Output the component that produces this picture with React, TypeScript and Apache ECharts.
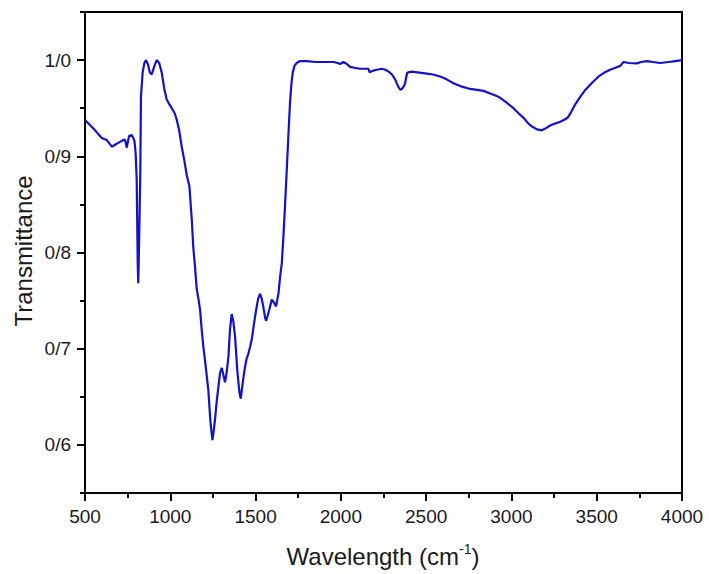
import React, { useEffect, useRef } from "react";
import * as echarts from "echarts";

const wavenumbers = [
  500, 510, 549, 598, 627, 657, 676, 705, 725, 735, 745, 758, 774, 783, 790, 797,
  803, 809, 812, 815, 818, 824, 828, 838, 848, 858, 870, 880, 891, 905, 920, 935,
  950, 965, 979, 995, 1009, 1025, 1038, 1053, 1067, 1082, 1097, 1112, 1126, 1135,
  1145, 1155, 1165, 1175, 1185, 1194, 1210, 1223, 1235, 1247, 1255, 1262, 1272,
  1282, 1292, 1302, 1312, 1321, 1331, 1341, 1350, 1360, 1370, 1380, 1393, 1405,
  1413, 1425, 1438, 1448, 1458, 1468, 1478, 1490, 1503, 1515, 1526, 1536, 1546,
  1556, 1562, 1572, 1581, 1595, 1608, 1620, 1634, 1644, 1654, 1663, 1673, 1683,
  1692, 1702, 1710, 1718, 1728, 1741, 1761, 1800, 1850, 1900, 1957, 1980, 1996,
  2015, 2035, 2054, 2080, 2113, 2140, 2162, 2168, 2190, 2211, 2240, 2260, 2280,
  2300, 2318, 2330, 2338, 2350, 2358, 2370, 2377, 2385, 2390, 2416, 2460, 2504,
  2540, 2582, 2620, 2660, 2700, 2758, 2800, 2836, 2880, 2924, 2970, 3012, 3040,
  3071, 3100, 3120, 3150, 3179, 3200, 3227, 3255, 3286, 3310, 3329, 3350, 3374,
  3400, 3433, 3470, 3511, 3545, 3579, 3610, 3638, 3657, 3690, 3736, 3760, 3794,
  3830, 3872, 3920, 3960, 4000,
];

const transmittance = [
  0.938, 0.936, 0.929, 0.919, 0.917, 0.91, 0.912, 0.915, 0.917, 0.917, 0.909, 0.921,
  0.922, 0.919, 0.916, 0.903, 0.876, 0.79, 0.768, 0.79, 0.82, 0.88, 0.962, 0.987,
  0.997, 1.0, 0.995, 0.987, 0.985, 0.993, 1.0, 0.997, 0.987, 0.97, 0.959, 0.954,
  0.95, 0.945, 0.938, 0.926, 0.91, 0.896, 0.88, 0.869, 0.834, 0.805, 0.785, 0.762,
  0.752, 0.74, 0.718, 0.702, 0.678, 0.657, 0.625, 0.605, 0.615, 0.626, 0.645, 0.66,
  0.675, 0.68, 0.672, 0.665, 0.676, 0.692, 0.72, 0.736, 0.728, 0.712, 0.677, 0.655,
  0.648, 0.665, 0.681, 0.69, 0.695, 0.702, 0.71, 0.725, 0.74, 0.752, 0.757, 0.752,
  0.743, 0.732, 0.729, 0.735, 0.741, 0.751, 0.748, 0.744, 0.757, 0.775, 0.789,
  0.816, 0.85, 0.886, 0.92, 0.956, 0.975, 0.987, 0.994, 0.997, 0.999, 0.999, 0.998,
  0.998, 0.998, 0.997, 0.996, 0.998, 0.996, 0.993, 0.992, 0.991, 0.991, 0.991,
  0.9875, 0.989, 0.99, 0.991, 0.99, 0.988, 0.985, 0.98, 0.975, 0.972, 0.969, 0.97,
  0.973, 0.976, 0.984, 0.987, 0.988, 0.987, 0.986, 0.985, 0.983, 0.98, 0.976, 0.973,
  0.97, 0.969, 0.968, 0.965, 0.962, 0.956, 0.95, 0.945, 0.94, 0.934, 0.931, 0.928,
  0.927, 0.929, 0.932, 0.934, 0.936, 0.938, 0.94, 0.946, 0.954, 0.961, 0.969, 0.976,
  0.983, 0.987, 0.99, 0.992, 0.994, 0.998, 0.997, 0.9966, 0.998, 0.999, 0.998,
  0.997, 0.998, 0.999, 1.0,
];

const xLabelValues = [500, 1000, 1500, 2000, 2500, 3000, 3500, 4000];
const yLabelValues = [0.6, 0.7, 0.8, 0.9, 1.0];

export default function App() {
  const ref = useRef<HTMLDivElement>(null);

  useEffect(() => {
    if (!ref.current) return;
    const chart = echarts.init(ref.current, null, { renderer: "svg" });
    const data = wavenumbers.map((w, i) => [w, transmittance[i]]);
    const font = "Arial, 'Liberation Sans', sans-serif";
    const black = () => ({ color: "#000", width: 2 });
    const hidden = { axisLine: { show: false }, axisTick: { show: false }, axisLabel: { show: false } };
    const dummy = (gridIndex: number) => ({ type: "value", gridIndex, min: 0, max: 1, show: false, splitLine: { show: false } });
    const xTickAxis = (gridIndex: number, interval: number, colors: any) => ({
      type: "value", gridIndex, min: 500, max: 4000, interval, ...hidden,
      splitLine: { show: true, lineStyle: { color: colors, width: 2 } },
    });
    const yTickAxis = (gridIndex: number, colors: any) => ({
      type: "value", gridIndex, min: 0.55, max: 1.05, interval: 0.05, ...hidden,
      splitLine: { show: true, lineStyle: { color: colors, width: 2 } },
    });

    chart.setOption({
      animation: false,
      backgroundColor: "#fff",
      grid: [
        { left: 85, right: 27, top: 12, bottom: 81, show: true, borderColor: "#000", borderWidth: 2 },
        { left: 85, right: 27, top: 493, height: 8 },
        { left: 85, right: 27, top: 493, height: 5 },
        { left: 77, width: 8, top: 12, bottom: 81 },
        { left: 80, width: 5, top: 12, bottom: 81 },
      ],
      xAxis: [
        {
          type: "value",
          gridIndex: 0,
          min: 500,
          max: 4000,
          splitLine: { show: false },
          position: "bottom",
          axisLine: { show: true, onZero: false, lineStyle: black() },
          axisTick: { show: false },
          axisLabel: {
            margin: 14,
            color: "#1a1a1a",
            fontSize: 19,
            fontFamily: font,
            customValues: xLabelValues,
            formatter: (v: number) => String(v),
          },
        },
        xTickAxis(1, 500, "#000"),
        xTickAxis(2, 250, "#000"),
        dummy(3),
        dummy(4),
      ],
      yAxis: [
        {
          type: "value",
          gridIndex: 0,
          min: 0.55,
          max: 1.05,
          splitLine: { show: false },
          position: "left",
          axisLine: { show: true, onZero: false, lineStyle: black() },
          axisTick: { show: false },
          axisLabel: {
            margin: 14,
            color: "#1a1a1a",
            fontSize: 19,
            fontFamily: font,
            customValues: yLabelValues,
            formatter: (v: number) => v.toFixed(1).replace(".", "/"),
          },
        },
        dummy(1),
        dummy(2),
        yTickAxis(3, ["rgba(0,0,0,0)", "#000"]),
        yTickAxis(4, "#000"),
      ],
      graphic: [
        {
          type: "text",
          x: 23,
          y: 251,
          rotation: Math.PI / 2,
          style: {
            text: "Transmittance",
            fontSize: 24,
            fontFamily: font,
            fill: "#1a1a1a",
            textAlign: "center",
            textVerticalAlign: "middle",
          },
        },
        {
          type: "text",
          x: 383,
          y: 556,
          style: {
            text: "{a|Wavelength (cm}{b|-1}{a|)}",
            fontFamily: font,
            fill: "#1a1a1a",
            textAlign: "center",
            textVerticalAlign: "middle",
            rich: {
              a: { fontSize: 24, fontFamily: font, fill: "#1a1a1a", lineHeight: 28 },
              b: { fontSize: 14, fontFamily: font, fill: "#1a1a1a", verticalAlign: "top", lineHeight: 28, padding: [0, 0, 10, 0] },
            },
          },
        },
      ],
      series: [
        {
          type: "line",
          data,
          xAxisIndex: 0,
          yAxisIndex: 0,
          showSymbol: false,
          symbol: "none",
          smooth: false,
          lineStyle: { color: "#1212cc", width: 2.2 },
        },
      ],
    });

    return () => chart.dispose();
  }, []);

  return (
    <div
      ref={ref}
      style={{ position: "fixed", left: 0, top: 0, width: 709, height: 574, background: "#fff" }}
    />
  );
}
